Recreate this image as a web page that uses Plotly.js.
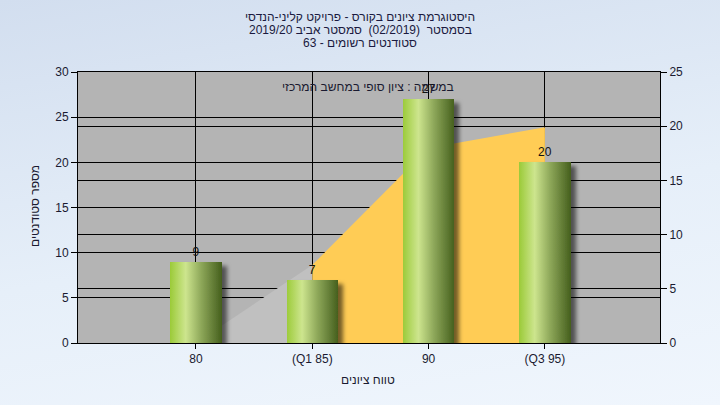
<!DOCTYPE html>
<html>
<head>
<meta charset="utf-8">
<script src="https://cdn.plot.ly/plotly-3.0.1.min.js"></script>
<style>
  html, body { margin: 0; padding: 0; }
  body { width: 720px; height: 405px; background: linear-gradient(170deg, #d2deef 0%, #e6eff9 55%, #f0f6fd 100%); }
  #chart { width: 720px; height: 405px; }
</style>
</head>
<body>
<div id="chart"></div>
<script>
// ---- data ----
const categories = ['80', '(Q1 85)', '90', '(Q3 95)'];
const studentCounts = [9, 7, 27, 20];
const curveCats1 = ['80', '(Q1 85)'];
const curveBelowQ1 = [0, 7.2];
const curveCats2 = ['(Q1 85)', '90', '(Q3 95)'];
const curveQ1toQ3 = [7.2, 18.0, 19.9];
const leftTicks = [0, 5, 10, 15, 20, 25, 30];
const rightTicks = [0, 5, 10, 15, 20, 25];

const titleLines = [
  'הנדסי-קליני פרויקט - בקורס ציונים היסטוגרמת',
  '2019/20 אביב סמסטר  (02/2019)  בסמסטר',
  '63 - רשומים סטודנטים'
];
const noteText = 'המרכזי במחשב סופי ציון : במשמה';
const xTitle = 'ציונים טווח';
const yTitle = 'סטודנטים מספר';

// split text into word tokens separated by direction marks
function visual(s) {
  return '\u200E' + s.replace(/([\s\-:]+)/g, '\u200E$1\u200E') + '\u200E';
}

const FONT = 'Liberation Sans, DejaVu Sans, Arial, sans-serif';
const L = 78, R = 660, T = 72, B = 343;
const px2x = px => (px - L) / (R - L);
const px2y = py => (B - py) / (B - T);

const traces = [
  {
    type: 'scatter', x: curveCats1, y: curveBelowQ1, xaxis: 'x', yaxis: 'y',
    mode: 'lines', line: { width: 0, color: '#c0c0c0' }, fill: 'tozeroy', fillcolor: '#c0c0c0',
    hoverinfo: 'skip', showlegend: false
  },
  {
    type: 'scatter', x: curveCats2, y: curveQ1toQ3, xaxis: 'x', yaxis: 'y',
    mode: 'lines', line: { width: 0, color: '#ffcc55' }, fill: 'tozeroy', fillcolor: '#ffcc55',
    hoverinfo: 'skip', showlegend: false
  },
  {
    type: 'bar', x: categories, y: studentCounts, xaxis: 'x', yaxis: 'y2',
    width: 0.44, marker: { color: '#98bf48', line: { width: 0 } },
    text: studentCounts.map(String), textposition: 'outside', cliponaxis: false,
    textfont: { family: FONT, size: 12, color: '#111111' },
    showlegend: false
  }
];

const annotations = titleLines.map((t, i) => ({
  text: visual(t), xref: 'paper', yref: 'paper', x: px2x(360), y: px2y(17 + i * 13),
  xanchor: 'center', yanchor: 'middle', showarrow: false,
  font: { family: FONT, size: 12, color: '#1a1a40' }
}));
annotations.push({
  text: visual(noteText), xref: 'paper', yref: 'paper', x: px2x(368), y: px2y(87),
  xanchor: 'center', yanchor: 'middle', showarrow: false,
  font: { family: FONT, size: 12, color: '#1a1a30' }
});
annotations.push({
  text: visual(xTitle), xref: 'paper', yref: 'paper', x: px2x(368), y: px2y(380),
  xanchor: 'center', yanchor: 'middle', showarrow: false,
  font: { family: FONT, size: 12, color: '#1a1a30' }
});
annotations.push({
  text: visual(yTitle), xref: 'paper', yref: 'paper', x: px2x(35), y: px2y(206),
  xanchor: 'center', yanchor: 'middle', showarrow: false, textangle: -90,
  font: { family: FONT, size: 12, color: '#1a1a30' }
});

const axisFont = { family: FONT, size: 12, color: '#1a1a30' };
const layout = {
  width: 720, height: 405,
  margin: { l: L, r: 720 - R, t: T, b: 405 - B, pad: 0 },
  paper_bgcolor: 'rgba(0,0,0,0)',
  plot_bgcolor: '#b4b4b4',
  font: { family: FONT, size: 12, color: '#1a1a30' },
  showlegend: false,
  bargap: 0,
  xaxis: {
    type: 'category', categoryorder: 'array', categoryarray: categories,
    range: [-1.014, 3.989], showgrid: true, gridcolor: '#000000', gridwidth: 1,
    showline: true, linecolor: '#000000', linewidth: 1, mirror: true,
    ticks: 'outside', ticklen: 5, tickcolor: '#000000', tickfont: axisFont,
    zeroline: false, fixedrange: true
  },
  yaxis: {
    side: 'right', range: [0, 25], tickvals: rightTicks, ticktext: rightTicks.map(String),
    showgrid: true, gridcolor: '#000000', gridwidth: 1,
    showline: true, linecolor: '#000000', linewidth: 1,
    ticks: 'outside', ticklen: 6, tickcolor: '#000000', tickfont: axisFont,
    zeroline: false, fixedrange: true
  },
  yaxis2: {
    overlaying: 'y', side: 'left', range: [0, 30], tickvals: leftTicks, ticktext: leftTicks.map(String),
    showgrid: true, gridcolor: '#000000', gridwidth: 1,
    showline: true, linecolor: '#000000', linewidth: 1,
    ticks: 'outside', ticklen: 6, tickcolor: '#000000', tickfont: axisFont,
    zeroline: false, fixedrange: true
  },
  annotations: annotations
};

function styleBars(gd) {
  const svg = gd.querySelector('svg.main-svg');
  if (!svg) return;
  const NS = 'http://www.w3.org/2000/svg';
  let defs = svg.querySelector('defs');
  if (!defs) { defs = document.createElementNS(NS, 'defs'); svg.insertBefore(defs, svg.firstChild); }
  if (!defs.querySelector('#barGrad')) {
    const g = document.createElementNS(NS, 'linearGradient');
    g.setAttribute('id', 'barGrad');
    g.setAttribute('x1', '0'); g.setAttribute('y1', '0'); g.setAttribute('x2', '1'); g.setAttribute('y2', '0');
    [['0', '#9ccb3a'], ['0.3', '#cde58e'], ['0.6', '#8ea85a'], ['1', '#46601e']].forEach(([o, c]) => {
      const s = document.createElementNS(NS, 'stop');
      s.setAttribute('offset', o); s.setAttribute('stop-color', c);
      g.appendChild(s);
    });
    defs.appendChild(g);
    const f = document.createElementNS(NS, 'filter');
    f.setAttribute('id', 'barShadow');
    f.setAttribute('x', '-20%'); f.setAttribute('y', '-20%'); f.setAttribute('width', '150%'); f.setAttribute('height', '150%');
    const ds = document.createElementNS(NS, 'feDropShadow');
    ds.setAttribute('dx', '5'); ds.setAttribute('dy', '4'); ds.setAttribute('stdDeviation', '2');
    ds.setAttribute('flood-color', '#000000'); ds.setAttribute('flood-opacity', '0.55');
    f.appendChild(ds);
    defs.appendChild(f);
  }
  gd.querySelectorAll('.barlayer .point path').forEach(p => {
    p.style.fill = 'url(#barGrad)';
    p.setAttribute('filter', 'url(#barShadow)');
  });
}

const gd = document.getElementById('chart');
Plotly.newPlot(gd, traces, layout, { staticPlot: true, displayModeBar: false }).then(() => {
  styleBars(gd);
  gd.on('plotly_afterplot', () => styleBars(gd));
});
</script>
</body>
</html>
